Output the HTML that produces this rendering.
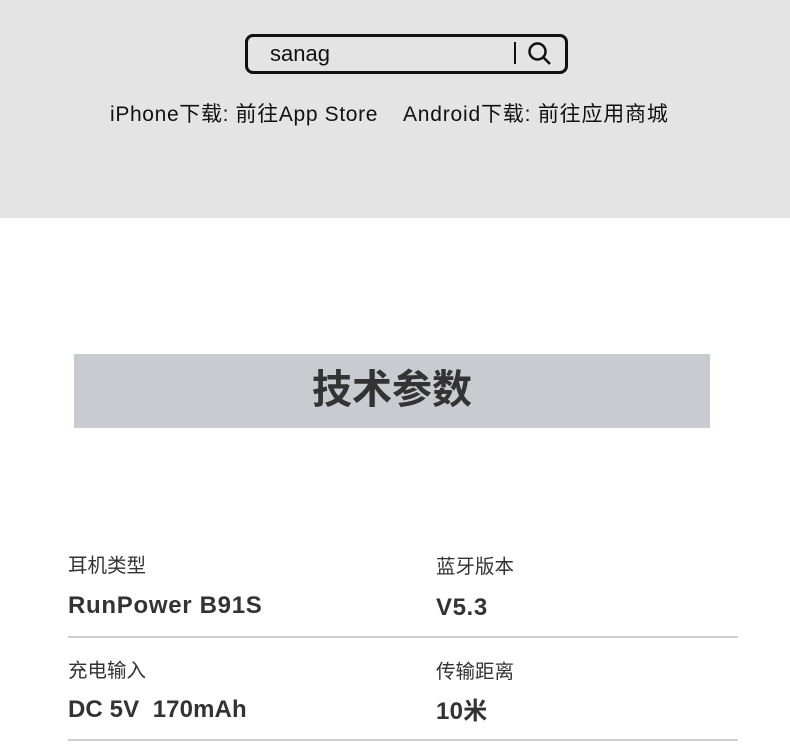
<!DOCTYPE html>
<html><head><meta charset="utf-8"><style>
body{margin:0;width:790px;height:752px;position:relative;background:#fff;overflow:hidden;font-family:"Liberation Sans","Noto Sans CJK SC",sans-serif;color:#333}
.a{position:absolute;white-space:nowrap;line-height:1}
.hd{position:absolute;left:0;top:0;width:790px;height:218px;background:#e4e4e4}
.sb{position:absolute;left:245px;top:34px;width:317px;height:34px;border:3px solid #111;border-radius:8px}
.lb{font-size:19.5px;color:#333}
.v{font-size:24px;font-weight:bold;color:#333}
.ln{position:absolute;left:68px;width:670px;height:2px;background:#cfcfcf}
</style></head><body>
<div class="hd"></div>
<div class="sb"></div>
<div class="a" style="left:270px;top:43px;font-size:22px;color:#111">sanag</div>
<div class="a" style="left:514px;top:42px;width:2px;height:22px;background:#111"></div>
<svg class="a" style="left:527px;top:41px" width="26" height="26" viewBox="0 0 26 26"><circle cx="10.5" cy="10.5" r="8" fill="none" stroke="#111" stroke-width="2.5"/><line x1="16.5" y1="16.5" x2="23" y2="23" stroke="#111" stroke-width="2.5"/></svg>
<div class="a" style="left:110px;top:104px;font-size:21px;letter-spacing:0.65px;color:#111">iPhone下载: 前往App Store</div>
<div class="a" style="left:403px;top:104px;font-size:21px;letter-spacing:0.8px;color:#111">Android下载: 前往应用商城</div>
<div class="a" style="left:74px;top:354px;width:636px;height:74px;background:#c9cbd0"></div>
<div class="a" style="left:74px;top:370px;width:636px;text-align:center;font-size:40px;font-weight:bold;color:#333">技术参数</div>
<div class="a lb" style="left:68px;top:557px">耳机类型</div>
<div class="a lb" style="left:436px;top:558px">蓝牙版本</div>
<div class="a v" style="left:68px;top:594px;letter-spacing:0.7px">RunPower B91S</div>
<div class="a v" style="left:436px;top:596px;letter-spacing:0.6px">V5.3</div>
<div class="ln" style="top:636px"></div>
<div class="a lb" style="left:68px;top:662px">充电输入</div>
<div class="a lb" style="left:436px;top:663px">传输距离</div>
<div class="a v" style="left:68px;top:698px;letter-spacing:0.1px">DC 5V&nbsp; 170mAh</div>
<div class="a v" style="left:436px;top:700px;letter-spacing:0.3px">10米</div>
<div class="ln" style="top:739px"></div>
</body></html>
